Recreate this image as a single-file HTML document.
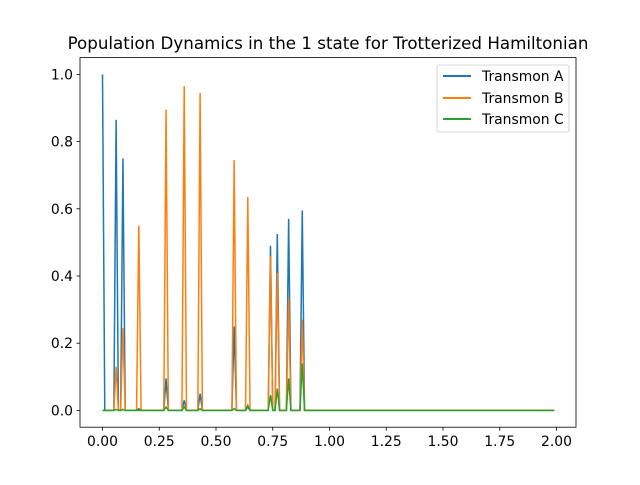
<!DOCTYPE html>
<html><head><meta charset="utf-8"><style>
body{margin:0;background:#fff}
svg text{font-family:"DejaVu Sans","Liberation Sans",sans-serif;fill:#000}
</style></head><body>
<svg width="640" height="480" xmlns="http://www.w3.org/2000/svg">
<rect width="640" height="480" fill="#fff"/>
<g id="plot"></g>
<rect x="80" y="57.6" width="496" height="369.6" fill="none" stroke="#000" stroke-width="0.8"/>
<g id="xt"></g><g id="yt"></g>
<text x="328" y="49" text-anchor="middle" font-size="16.7">Population Dynamics in the 1 state for Trotterized Hamiltonian</text>
<g>
<rect x="437" y="65" width="132" height="67" rx="2" fill="#fff" fill-opacity="0.8" stroke="#ccc" stroke-width="0.8"/>
<line x1="443" x2="471" y1="76" y2="76" stroke="#1f77b4" stroke-width="2"/>
<text x="482" y="81" font-size="13.9">Transmon A</text>
<line x1="443" x2="471" y1="98" y2="98" stroke="#ff7f0e" stroke-width="2"/>
<text x="482" y="103" font-size="13.9">Transmon B</text>
<line x1="443" x2="471" y1="119" y2="119" stroke="#2ca02c" stroke-width="2"/>
<text x="482" y="124" font-size="13.9">Transmon C</text>
</g>
</svg>
<script>
const spikeTimes=[0.06,0.09,0.16,0.28,0.36,0.43,0.58,0.64,0.74,0.77,0.82,0.88];
const valuesA=[0.865,0.75,0.0,0.095,0.03,0.05,0.25,0.01,0.49,0.525,0.57,0.595];
const valuesB=[0.13,0.245,0.55,0.895,0.965,0.945,0.745,0.635,0.46,0.41,0.335,0.27];
const valuesC=[0.003,0.003,0.005,0.01,0.01,0.005,0.005,0.015,0.045,0.065,0.095,0.14];
const initialA=1.0;
const xTicks=[0,0.25,0.5,0.75,1.0,1.25,1.5,1.75,2.0];
const xTickLabels=["0.00","0.25","0.50","0.75","1.00","1.25","1.50","1.75","2.00"];
const yTicks=[0,0.2,0.4,0.6,0.8,1.0];
const yTickLabels=["0.0","0.2","0.4","0.6","0.8","1.0"];
const NS="http://www.w3.org/2000/svg";
const X=t=>102.5+t*227, Y=v=>410.4-v*336;
function series(vals,first){
  const arr=new Array(200).fill(0);
  arr[0]=first;
  spikeTimes.forEach((t,i)=>{arr[Math.round(t*100)]=vals[i];});
  return arr;
}
const plot=document.getElementById('plot');
[[valuesA,initialA,'#1f77b4','line-transmon-a'],[valuesB,0,'#ff7f0e','line-transmon-b'],[valuesC,0,'#2ca02c','line-transmon-c']].forEach(([v,f,c,n])=>{
  const s=series(v,f);
  const p=document.createElementNS(NS,'polyline');
  p.setAttribute('points',s.map((y,i)=>X(i*0.01).toFixed(2)+','+Y(y).toFixed(2)).join(' '));
  p.setAttribute('fill','none');p.setAttribute('stroke',c);p.setAttribute('stroke-width','1.5');
  
  
  plot.appendChild(p);
});
const xt=document.getElementById('xt');
xTicks.forEach((t,i)=>{
  const l=document.createElementNS(NS,'line');
  l.setAttribute('x1',X(t));l.setAttribute('x2',X(t));l.setAttribute('y1',427.2);l.setAttribute('y2',430.7);l.setAttribute('stroke','#000');l.setAttribute('stroke-width','0.8');
  
  
  xt.appendChild(l);
  const tx=document.createElementNS(NS,'text');
  tx.setAttribute('x',X(t));tx.setAttribute('y',446);tx.setAttribute('text-anchor','middle');tx.setAttribute('font-size','13.9');
  tx.textContent=xTickLabels[i];
  
  
  xt.appendChild(tx);
});
const yt=document.getElementById('yt');
yTicks.forEach((v,i)=>{
  const l=document.createElementNS(NS,'line');
  l.setAttribute('x1',76.5);l.setAttribute('x2',80);l.setAttribute('y1',Y(v));l.setAttribute('y2',Y(v));l.setAttribute('stroke','#000');l.setAttribute('stroke-width','0.8');
  
  
  yt.appendChild(l);
  const tx=document.createElementNS(NS,'text');
  tx.setAttribute('x',73);tx.setAttribute('y',Y(v)+5);tx.setAttribute('text-anchor','end');tx.setAttribute('font-size','13.9');
  tx.textContent=yTickLabels[i];
  
  
  yt.appendChild(tx);
});
</script>
</body></html>
